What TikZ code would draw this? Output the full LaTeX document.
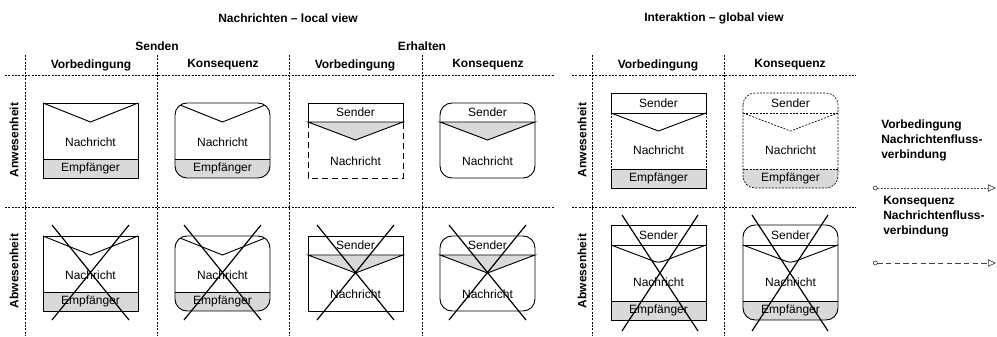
\documentclass[tikz,border=0pt]{standalone}
\usepackage{fontspec}
\setmainfont{Liberation Sans}
\usetikzlibrary{arrows.meta}

\tikzset{
  txt/.style={font=\fontsize{9}{11}\selectfont, inner sep=0pt},
  head/.style={inner sep=0pt, font=\fontsize{9}{11.25}\selectfont\bfseries},
  grid/.style={line width=0.5pt, dash pattern=on 1.5pt off 1pt},
  box/.style={line width=0.7pt},
  fine/.style={line width=0.5pt, dash pattern=on 1.5pt off 1pt},
  long dash/.style={line width=0.7pt, dash pattern=on 4.5pt off 3pt},
  band/.style={fill=black!15},
  cross/.style={line width=0.9pt},
  flow/.style={line width=0.5pt, black!75,
    arrows={Circle[open,length=3.5pt]-Triangle[open,length=6pt,width=5.5pt]}},
}

\begin{document}
\begin{tikzpicture}[x=0.75pt,y=-0.75pt]
\useasboundingbox (0,0) rectangle (997,336);

% titles and headers
\node[head] (local)    at (288,18) {Nachrichten – local view};
\node[head] (global)   at (714,18) {Interaktion – global view};
\node[head] (senden)   at (157,46) {Senden};
\node[head] (erhalten) at (422,46) {Erhalten};
\foreach \x/\t [count=\i] in {91/Vorbedingung,223/Konsequenz,355/Vorbedingung,
                              488/Konsequenz,658/Vorbedingung,790/Konsequenz}
  \node[head] (h\i) at (\x,65) {\t};
\foreach \x/\s in {14/l,582/g} {
  \node[head,rotate=90] (an\s) at (\x,140) {Anwesenheit};
  \node[head,rotate=90] (ab\s) at (\x,271) {Abwesenheit};
}

% grid
\foreach \y in {75,207} {
  \draw[grid] (5,\y) -- (554,\y);
  \draw[grid] (572,\y) -- (856,\y);
}
\foreach \x in {25,157,289,422,592,724}
  \draw[grid] (\x,55) -- (\x,336);

% local view, both rows
\foreach \y/\r/\body in {103/1/long dash,236/2/box} {
  % Senden - Vorbedingung
  \begin{scope}[shift={(43,\y)}]
    \fill[band] (0,56) rectangle (95,75);
    \draw[box] (0,0) rectangle (95,75) (0,56) -- (95,56);
    \draw[box] (0,0) -- (47.5,19) -- (95,0);
    \node[txt] (n\r1) at (47.5,39) {Nachricht};
    \node[txt] (e\r1) at (47.5,65.5) {Empfänger};
  \end{scope}
  % Senden - Konsequenz
  \begin{scope}[shift={(175,\y)}]
    \begin{scope}
      \clip[rounded corners=9pt] (0,0) rectangle (95,75);
      \fill[band] (0,56) rectangle (95,75);
      \draw[box] (0,0) -- (47.5,19) -- (95,0);
    \end{scope}
    \draw[box,rounded corners=9pt] (0,0) rectangle (95,75);
    \draw[box] (0,56) -- (95,56);
    \node[txt] (n\r2) at (47.5,39) {Nachricht};
    \node[txt] (e\r2) at (47.5,65.5) {Empfänger};
  \end{scope}
  % Erhalten - Vorbedingung
  \begin{scope}[shift={(308,\y)}]
    \draw[box] (0,0) rectangle (95,19);
    \filldraw[box,band] (0,19) -- (47.5,37) -- (95,19) -- cycle;
    \draw[\body] (0,19) -- (0,75) -- (95,75) -- (95,19);
    \node[txt] (s\r3) at (47.5,9.5) {Sender};
    \node[txt] (n\r3) at (47.5,58) {Nachricht};
  \end{scope}
  % Erhalten - Konsequenz
  \begin{scope}[shift={(440,\y)}]
    \filldraw[box,band] (0,19) -- (47.5,37) -- (95,19) -- cycle;
    \draw[box,rounded corners=9pt] (0,0) rectangle (95,75);
    \node[txt] (s\r4) at (47.5,9.5) {Sender};
    \node[txt] (n\r4) at (47.5,58) {Nachricht};
  \end{scope}
}
\foreach \x in {43,175,308,440}
  \draw[cross] (\x+9,225) -- (\x+86,320) (\x+86,225) -- (\x+9,320);

% global view, Anwesenheit
\begin{scope}[shift={(611,93)}]
  \fill[band] (0,76) rectangle (95,95);
  \draw[box] (0,0) rectangle (95,20) (0,76) rectangle (95,95);
  \draw[fine] (0,20) -- (0,76) (95,20) -- (95,76);
  \draw[box] (0,20) -- (47.5,38) -- (95,20);
  \node[txt] (gs11) at (47.5,10) {Sender};
  \node[txt] (gn11) at (47.5,57) {Nachricht};
  \node[txt] (ge11) at (47.5,85.5) {Empfänger};
\end{scope}
\begin{scope}[shift={(743,93)}]
  \begin{scope}
    \clip[rounded corners=9pt] (0,0) rectangle (95,95);
    \fill[band] (0,76) rectangle (95,95);
  \end{scope}
  \draw[fine,rounded corners=9pt] (0,0) rectangle (95,95);
  \draw[fine] (0,20) -- (95,20) (0,76) -- (95,76);
  \draw[fine] (0,20) -- (47.5,38) -- (95,20);
  \node[txt] (gs12) at (47.5,10) {Sender};
  \node[txt] (gn12) at (47.5,57) {Nachricht};
  \node[txt] (ge12) at (47.5,85.5) {Empfänger};
\end{scope}

% global view, Abwesenheit
\begin{scope}[shift={(611,225)}]
  \fill[band] (0,76) rectangle (95,95);
  \draw[box] (0,0) rectangle (95,95) (0,20) -- (95,20) (0,76) -- (95,76);
  \draw[box,rounded corners=3pt] (0,20) -- (47.5,38) -- (95,20);
  \node[txt] (gs21) at (47.5,10) {Sender};
  \node[txt] (gn21) at (47.5,57) {Nachricht};
  \node[txt] (ge21) at (47.5,85.5) {Empfänger};
\end{scope}
\begin{scope}[shift={(743,225)}]
  \begin{scope}
    \clip[rounded corners=9pt] (0,0) rectangle (95,95);
    \fill[band] (0,76) rectangle (95,95);
  \end{scope}
  \draw[box,rounded corners=9pt] (0,0) rectangle (95,95);
  \draw[box] (0,20) -- (95,20) (0,76) -- (95,76);
  \draw[box,rounded corners=3pt] (0,20) -- (47.5,38) -- (95,20);
  \node[txt] (gs22) at (47.5,10) {Sender};
  \node[txt] (gn22) at (47.5,57) {Nachricht};
  \node[txt] (ge22) at (47.5,85.5) {Empfänger};
\end{scope}
\foreach \x in {622,752}
  \draw[cross] (\x,215) -- (\x+76,331) (\x+76,215) -- (\x,331);

% legend
\node[head,align=left,anchor=west] (lpre)  at (881,140) {Vorbedingung\\Nachrichtenfluss-\\verbindung};
\node[head,align=left,anchor=west] (lcons) at (883,217) {Konsequenz\\Nachrichtenfluss-\\verbindung};
\coordinate (pre0) at (873,188);
\coordinate (pre1) at (996,188);
\coordinate (con0) at (873,263);
\coordinate (con1) at (996,263);
\draw[flow, dash pattern=on 1.5pt off 1pt] (pre0) -- (pre1);
\draw[flow, dash pattern=on 4pt off 2.5pt] (con0) -- (con1);

\end{tikzpicture}
\end{document}
